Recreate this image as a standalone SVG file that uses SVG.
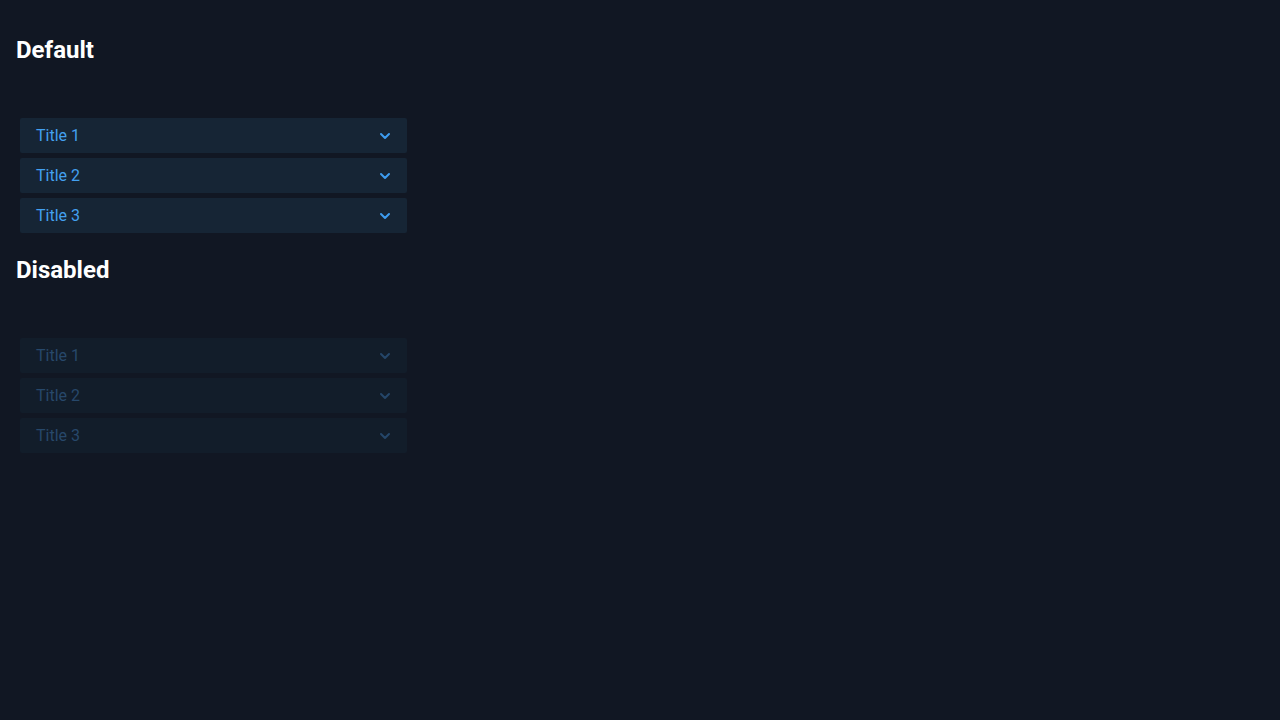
<svg xmlns="http://www.w3.org/2000/svg" width="1280" height="720" viewBox="0 0 1280 720">
<style>
.h{font-family:Roboto,"Liberation Sans",sans-serif;font-size:24px;font-weight:700;fill:#ffffff}
.t{font-family:Roboto,"Liberation Sans",sans-serif;font-size:16px}
.p{fill:#162535}
.pt{fill:#43a0f0}
.pc{fill:none;stroke:#3d9cf0;stroke-width:2;stroke-linecap:round;stroke-linejoin:round}
.d{fill:#121d2a}
.dt{fill:#27486a}
.dc{fill:none;stroke:#254669;stroke-width:2;stroke-linecap:round;stroke-linejoin:round}
</style>
<rect width="1280" height="720" fill="#111723"/>
<text class="h" x="16" y="58">Default</text>
<g id="default-1"><rect class="p" x="20" y="118" width="387" height="35" rx="2"/><text class="t pt" x="36" y="141">Title 1</text><path class="pc" d="M381 134 L385 138 L389 134"/></g>
<g id="default-2"><rect class="p" x="20" y="158" width="387" height="35" rx="2"/><text class="t pt" x="36" y="181">Title 2</text><path class="pc" d="M381 174 L385 178 L389 174"/></g>
<g id="default-3"><rect class="p" x="20" y="198" width="387" height="35" rx="2"/><text class="t pt" x="36" y="221">Title 3</text><path class="pc" d="M381 214 L385 218 L389 214"/></g>
<text class="h" x="16" y="278">Disabled</text>
<g id="disabled-1"><rect class="d" x="20" y="338" width="387" height="35" rx="2"/><text class="t dt" x="36" y="361">Title 1</text><path class="dc" d="M381 354 L385 358 L389 354"/></g>
<g id="disabled-2"><rect class="d" x="20" y="378" width="387" height="35" rx="2"/><text class="t dt" x="36" y="401">Title 2</text><path class="dc" d="M381 394 L385 398 L389 394"/></g>
<g id="disabled-3"><rect class="d" x="20" y="418" width="387" height="35" rx="2"/><text class="t dt" x="36" y="441">Title 3</text><path class="dc" d="M381 434 L385 438 L389 434"/></g>
<g id="connectors"/>
</svg>
